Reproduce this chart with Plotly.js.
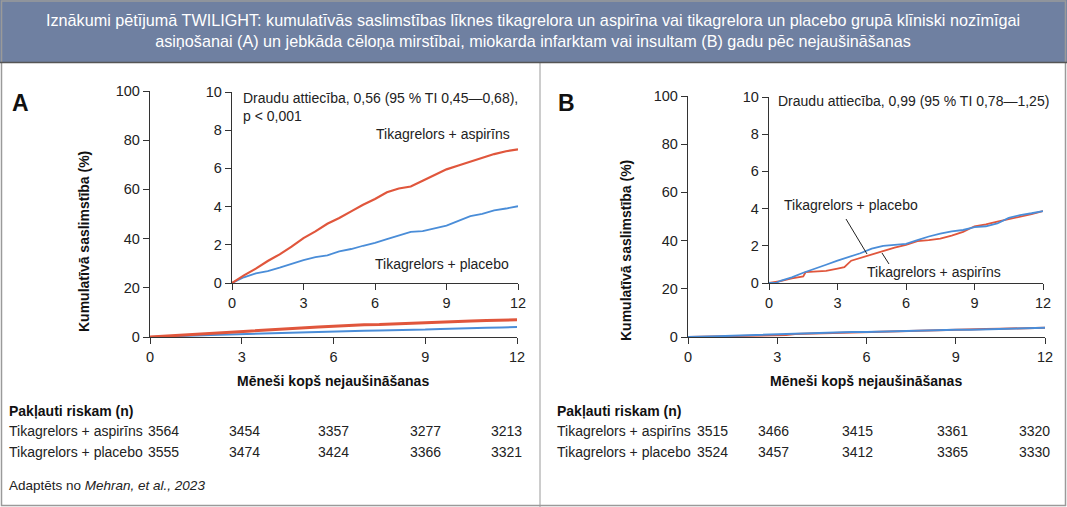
<!DOCTYPE html>
<html>
<head>
<meta charset="utf-8">
<script src="https://cdn.plot.ly/plotly-3.0.1.min.js"></script>
<style>
html,body{margin:0;padding:0;background:#fff;}
#chart{width:1067px;height:507px;}
</style>
</head>
<body>
<div id="chart"></div>
<script>
// ---------- data ----------
const monthTicks = [0, 3, 6, 9, 12];
const yMainTicks = [0, 20, 40, 60, 80, 100];
const yInsetTicks = [0, 2, 4, 6, 8, 10];

// Panel A: clinically relevant bleeding
const monthsA = [0,0.5,1,1.5,2,2.5,3,3.5,4,4.5,5,5.5,6,6.5,7,7.5,8,8.5,9,9.5,10,10.5,11,11.5,12];
const aspirinA = [0,0.4,0.75,1.15,1.5,1.9,2.35,2.7,3.1,3.4,3.75,4.1,4.4,4.75,4.95,5.05,5.35,5.65,5.95,6.15,6.35,6.55,6.75,6.9,7.0];
const placeboA = [0,0.3,0.5,0.62,0.8,1.0,1.2,1.35,1.45,1.65,1.78,1.95,2.1,2.3,2.5,2.68,2.72,2.85,3.0,3.25,3.5,3.62,3.8,3.9,4.02];

// Panel B: all-cause death, MI or stroke
const monthsB_asp = [0,0.5,1,1.5,1.6,2,2.5,3,3.3,3.6,4,4.5,5,5.5,6,6.5,7,7.5,8,8.5,9,9.5,10,10.5,11,11.5,12];
const aspirinB = [0,0.1,0.25,0.35,0.58,0.6,0.65,0.77,0.85,1.2,1.35,1.52,1.72,1.9,2.05,2.25,2.3,2.38,2.55,2.75,3.05,3.15,3.3,3.42,3.55,3.7,3.87];
const monthsB_pla = [0,0.3,0.5,1,1.5,2,2.5,3,3.5,4,4.5,5,5.5,6,6.5,7,7.5,8,8.5,9,9.5,10,10.5,11,11.5,12];
const placeboB = [0,0,0.12,0.3,0.55,0.75,0.98,1.2,1.4,1.6,1.85,2.0,2.05,2.1,2.3,2.5,2.65,2.78,2.85,3.0,3.05,3.2,3.5,3.65,3.75,3.87];

// Numbers at risk
const riskA_asp = [3564, 3454, 3357, 3277, 3213];
const riskA_pla = [3555, 3474, 3424, 3366, 3321];
const riskB_asp = [3515, 3466, 3415, 3361, 3320];
const riskB_pla = [3524, 3457, 3412, 3365, 3330];

const seriesNames = ['Tikagrelors + aspirīns', 'Tikagrelors + placebo'];
const titleText = 'Iznākumi pētījumā TWILIGHT: kumulatīvās saslimstības līknes tikagrelora un aspirīna vai tikagrelora un placebo grupā klīniski nozīmīgai<br>asiņošanai (A) un jebkāda cēloņa mirstībai, miokarda infarktam vai insultam (B) gadu pēc nejaušināšanas';
const hrA = 'Draudu attiecība, 0,56 (95 % TI 0,45—0,68),<br>p < 0,001';
const hrB = 'Draudu attiecība, 0,99 (95 % TI 0,78—1,25)';
const xTitle = 'Mēneši kopš nejaušināšanas';
const yTitle = 'Kumulatīvā saslimstība (%)';
const riskTitle = 'Pakļauti riskam (n)';
const source = 'Adaptēts no <i>Mehran, et al., 2023</i>';

// ---------- style ----------
const FONT = '"Liberation Sans", Arial, sans-serif';
const RED = '#e0563c';
const BLUE = '#4a8dd8';
const AX = '#333';
const W = 1067, H = 507;
const px = v => v / W;
const py = v => 1 - v / H;

function line(x, y, xa, ya, color, width) {
  return {x: x, y: y, xaxis: xa, yaxis: ya, type: 'scatter', mode: 'lines',
          line: {color: color, width: width, shape: 'linear'}, hoverinfo: 'skip', showlegend: false};
}

const traces = [
  line(monthsA, placeboA, 'x', 'y', BLUE, 2),
  line(monthsA, aspirinA, 'x', 'y', RED, 3),
  line(monthsA, placeboA, 'x2', 'y2', BLUE, 1.8),
  line(monthsA, aspirinA, 'x2', 'y2', RED, 2.2),
  line(monthsB_asp, aspirinB, 'x3', 'y3', RED, 2),
  line(monthsB_pla, placeboB, 'x3', 'y3', BLUE, 2),
  line(monthsB_asp, aspirinB, 'x4', 'y4', RED, 1.8),
  line(monthsB_pla, placeboB, 'x4', 'y4', BLUE, 1.8)
];

const TICKFONT = {family: FONT, size: 14.5, color: '#222'};
function xax(dom, anchor) {
  return {domain: dom, anchor: anchor, range: [0, 12], tickmode: 'array', tickvals: monthTicks,
          showline: true, linecolor: AX, linewidth: 1.2, ticks: 'outside', ticklen: 6, tickcolor: AX,
          showgrid: false, zeroline: false, tickfont: TICKFONT, fixedrange: true};
}
function yax(dom, anchor, range, tv) {
  return {domain: dom, anchor: anchor, range: range, tickmode: 'array', tickvals: tv,
          showline: true, linecolor: AX, linewidth: 1.2, ticks: 'outside', ticklen: 6, tickcolor: AX,
          showgrid: false, zeroline: false, tickfont: TICKFONT, fixedrange: true};
}

const ann = [];
function txt(text, x, y, opts) {
  ann.push(Object.assign({text: text, x: x, y: y, xref: 'paper', yref: 'paper', showarrow: false,
    xanchor: 'left', yanchor: 'middle', font: {family: FONT, size: 14, color: '#222'}}, opts || {}));
}
const F = (s, c) => ({family: FONT, size: s, color: c || '#222'});

// title
txt(titleText, px(533), py(31), {xanchor: 'center', align: 'center', font: F(16.2, '#fff')});
// panel letters
txt('<b>A</b>', px(10), py(103), {font: F(23, '#111')});
txt('<b>B</b>', px(556), py(103), {font: F(23, '#111')});
// axis titles
txt('<b>' + xTitle + '</b>', px(333), py(381), {xanchor: 'center', font: F(14, '#111')});
txt('<b>' + xTitle + '</b>', px(866), py(381), {xanchor: 'center', font: F(14, '#111')});
txt('<b>' + yTitle + '</b>', px(84), py(242), {xanchor: 'center', textangle: -90, font: F(14, '#111')});
txt('<b>' + yTitle + '</b>', px(626), py(251), {xanchor: 'center', textangle: -90, font: F(14, '#111')});
// inset annotations
txt(hrA, px(241), py(107), {align: 'left', font: F(14)});
txt(seriesNames[0], px(512), py(134), {xanchor: 'right', font: F(14)});
txt(seriesNames[1], px(511), py(264), {xanchor: 'right', font: F(14)});
txt(hrB, px(776), py(101), {font: F(14)});
txt(seriesNames[1], px(782), py(205), {font: F(14)});
txt(seriesNames[0], px(865), py(272), {font: F(14)});

// at-risk table
txt('<b>' + riskTitle + '</b>', px(7), py(411), {font: F(14, '#111')});
txt(seriesNames[0], px(7), py(431), {font: F(14)});
txt(seriesNames[1], px(7), py(452), {font: F(14)});
txt('<b>' + riskTitle + '</b>', px(555), py(411), {font: F(14, '#111')});
txt(seriesNames[0], px(555), py(431), {font: F(14)});
txt(seriesNames[1], px(555), py(452), {font: F(14)});
const shiftA = [-4, 3, 0, 0, 7];
const shiftB = [7, -4, -9, -3, 7];
const anchors = ['left', 'center', 'center', 'center', 'right'];
function riskRow(vals, xr, shifts, yv) {
  vals.forEach((v, i) => {
    ann.push({text: String(v), x: monthTicks[i], y: py(yv), xref: xr, yref: 'paper', showarrow: false,
      xanchor: anchors[i], yanchor: 'middle', xshift: shifts[i], font: F(14)});
  });
}
riskRow(riskA_asp, 'x', shiftA, 431);
riskRow(riskA_pla, 'x', shiftA, 452);
riskRow(riskB_asp, 'x3', shiftB, 431);
riskRow(riskB_pla, 'x3', shiftB, 452);
// source
txt(source, px(7), py(485), {font: F(13.5)});

const shapes = [
  {type: 'rect', xref: 'paper', yref: 'paper', x0: 0, x1: 1, y0: py(62), y1: 1, fillcolor: '#6f80a1', line: {width: 0}, layer: 'below'},
  {type: 'rect', xref: 'paper', yref: 'paper', x0: px(1.5), x1: px(1065.5), y0: py(505.5), y1: py(1), fillcolor: 'rgba(0,0,0,0)', line: {color: '#9a9a9a', width: 1.5}},
  {type: 'line', xref: 'paper', yref: 'paper', x0: px(540), x1: px(540), y0: py(62), y1: py(507), line: {color: '#9a9a9a', width: 1}},
  {type: 'line', xref: 'paper', yref: 'paper', x0: 0, x1: 1, y0: py(62.5), y1: py(62.5), line: {color: '#555', width: 1.5}},
  {type: 'line', xref: 'paper', yref: 'paper', x0: px(846), x1: px(867), y0: py(219), y1: py(254), line: {color: '#222', width: 1}},
  {type: 'line', xref: 'paper', yref: 'paper', x0: px(882), x1: px(889), y0: py(253), y1: py(264), line: {color: '#222', width: 1}}
];

const layout = {
  width: W, height: H,
  margin: {l: 0, r: 0, t: 0, b: 0},
  paper_bgcolor: '#fff', plot_bgcolor: 'rgba(0,0,0,0)',
  showlegend: false,
  font: {family: FONT},
  xaxis: xax([px(150), px(517)], 'y'),
  yaxis: yax([py(337), py(91)], 'x', [0, 100], yMainTicks),
  xaxis2: xax([px(232), px(518)], 'y2'),
  yaxis2: yax([py(283), py(92)], 'x2', [0, 10], yInsetTicks),
  xaxis3: xax([px(688), px(1045)], 'y3'),
  yaxis3: yax([py(337), py(96)], 'x3', [0, 100], yMainTicks),
  xaxis4: xax([px(769), px(1043)], 'y4'),
  yaxis4: yax([py(283), py(97)], 'x4', [0, 10], yInsetTicks),
  annotations: ann,
  shapes: shapes
};

Plotly.newPlot('chart', traces, layout, {staticPlot: true, displayModeBar: false});
</script>
</body>
</html>
